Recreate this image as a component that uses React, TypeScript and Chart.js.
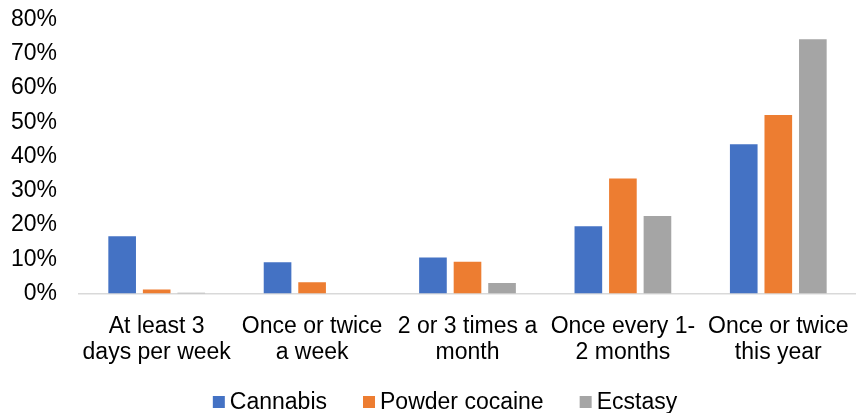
import React, { useEffect, useRef } from "react";
import { Chart, registerables } from "chart.js";

Chart.register(...registerables);

const categories: string[][] = [
  ["At least 3", "days per week"],
  ["Once or twice", "a week"],
  ["2 or 3 times a", "month"],
  ["Once every 1-", "2 months"],
  ["Once or twice", "this year"],
];
const seriesNames = ["Cannabis", "Powder cocaine", "Ecstasy"];
const cannabis = [16.7, 9.1, 10.5, 19.6, 43.6];
const powderCocaine = [1.2, 3.3, 9.3, 33.6, 52.1];
const ecstasy = [0.2, 0, 3.1, 22.6, 74.2];
const yTicks = [0, 10, 20, 30, 40, 50, 60, 70, 80];
const colors = ["#4472C4", "#ED7D31", "#A5A5A5"];

const FONT = "'Liberation Sans', Arial, sans-serif";
const FONT_SIZE = 23;

const bottomLegend = {
  id: "bottomLegend",
  afterDraw(chart: any) {
    const ctx = chart.ctx as CanvasRenderingContext2D;
    ctx.save();
    ctx.font = `${FONT_SIZE}px ${FONT}`;
    ctx.textBaseline = "middle";
    ctx.textAlign = "left";
    const box = 12;
    const boxGap = 5;
    const itemGap = 36;
    const items = chart.data.datasets.map((d: any) => ({
      label: d.label,
      color: d.backgroundColor,
      w: ctx.measureText(d.label).width,
    }));
    const total =
      items.reduce((s: number, it: any) => s + box + boxGap + it.w, 0) +
      itemGap * (items.length - 1);
    let x = chart.width / 2 + 17 - total / 2;
    const cy = chart.height - 11;
    for (const it of items) {
      ctx.fillStyle = it.color;
      ctx.fillRect(x, cy - box / 2, box, box);
      ctx.fillStyle = "#000";
      ctx.fillText(it.label, x + box + boxGap, cy + 1);
      x += box + boxGap + it.w + itemGap;
    }
    ctx.restore();
  },
};

export default function App() {
  const ref = useRef<HTMLCanvasElement | null>(null);
  useEffect(() => {
    document.body.style.margin = "0";
    const canvas = ref.current;
    if (!canvas) return;
    const chart = new Chart(canvas, {
      type: "bar",
      data: {
        labels: categories,
        datasets: [
          { label: seriesNames[0], data: cannabis, backgroundColor: colors[0] },
          { label: seriesNames[1], data: powderCocaine, backgroundColor: colors[1] },
          { label: seriesNames[2], data: ecstasy, backgroundColor: colors[2] },
        ],
      },
      plugins: [bottomLegend],
      options: {
        animation: false,
        responsive: false,
        maintainAspectRatio: false,
        layout: { padding: { left: 10, right: -3, top: 19.5, bottom: 0 } },
        datasets: { bar: { categoryPercentage: 0.667, barPercentage: 0.8 } },
        scales: {
          x: {
            afterFit: (axis: any) => {
              axis.height = 119.5;
              axis.paddingLeft = 0;
              axis.paddingRight = 0;
            },
            grid: { display: false, drawTicks: false },
            border: { display: true, color: "#d9d9d9", width: 1.5 },
            ticks: {
              color: "#000",
              font: { family: FONT, size: FONT_SIZE, lineHeight: 1.13 },
              padding: 20,
              maxRotation: 0,
              autoSkip: false,
            },
          },
          y: {
            min: 0,
            max: 80,
            afterBuildTicks: (axis: any) => {
              axis.ticks = yTicks.map((v) => ({ value: v }));
            },
            afterFit: (axis: any) => {
              axis.width = 69;
              axis.paddingTop = 0;
              axis.paddingBottom = 0;
            },
            grid: { display: false, drawTicks: false },
            border: { display: false },
            ticks: {
              color: "#000",
              font: { family: FONT, size: FONT_SIZE },
              padding: 22,
              autoSkip: false,
              callback: (v: any) => v + "%",
            },
          },
        },
        plugins: {
          tooltip: { enabled: false },
          legend: { display: false },
        },
      },
    });
    return () => chart.destroy();
  }, []);
  return (
    <div style={{ width: 856, height: 413 }}>
      <canvas ref={ref} width={856} height={413} style={{ display: "block" }} />
    </div>
  );
}
